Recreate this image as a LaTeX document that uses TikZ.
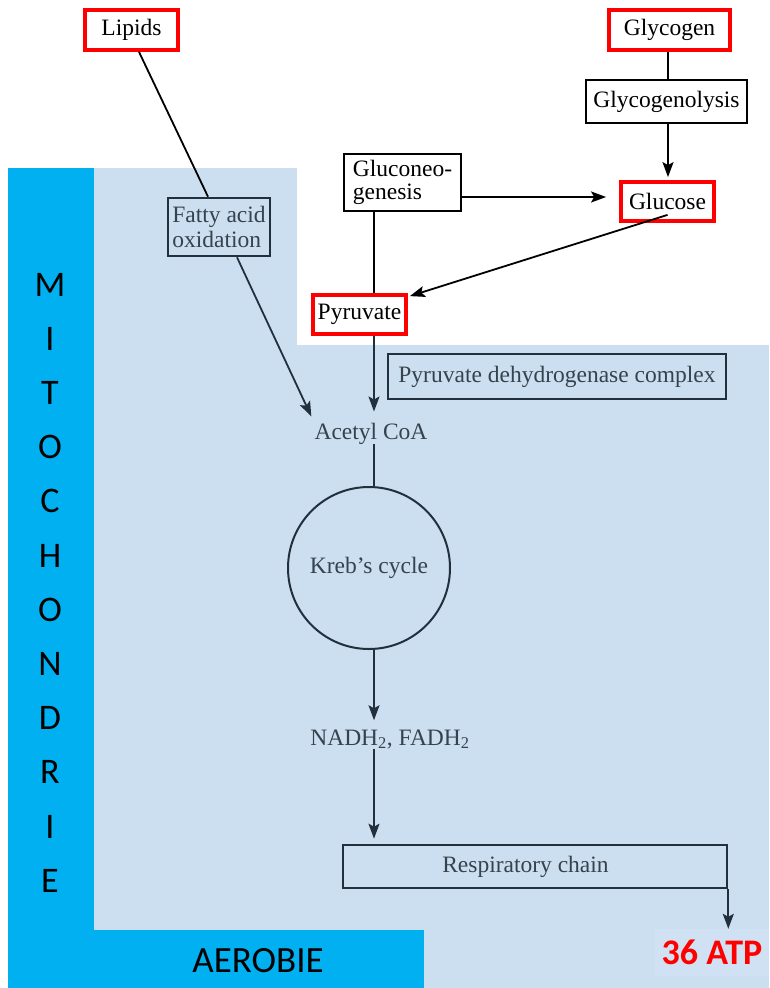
\documentclass[tikz,border=0pt]{standalone}
\usepackage{fontspec}
\setmainfont{Liberation Serif}
\newfontfamily\calib{Carlito}
\usetikzlibrary{arrows.meta,calc}
\definecolor{mitoblue}{HTML}{00B0F0}
\definecolor{lightbg}{HTML}{CCDFF0}
\definecolor{atpbg}{HTML}{CFE1F2}
\definecolor{ink}{HTML}{22303E}
\definecolor{inktext}{HTML}{36424E}
\begin{document}
\begin{tikzpicture}[x=1pt,y=-1pt,
  every node/.style={font=\fontsize{23.5}{25}\selectfont, inner sep=0pt},
  redframe/.style={draw=red, line width=3.8pt, fill=white},
  blackframe/.style={draw=black, line width=2.2pt, fill=white},
  darkframe/.style={draw=ink, line width=2.6pt, text=inktext, fill=lightbg},
  plaintext/.style={text=inktext},
  conn/.style={line width=1.8pt, draw=black},
  darkconn/.style={line width=1.8pt, draw=ink},
  witharrow/.style={-{Stealth[length=15pt,width=11pt,inset=3pt]}}
]
% backgrounds
\fill[white] (0,0) rectangle (769,988);
\fill[lightbg] (94,168) rectangle (297,345);
\fill[lightbg] (94,345) rectangle (769,988);
\fill[mitoblue] (8,168) rectangle (94,988);
\fill[mitoblue] (8,930) rectangle (424,988);
\useasboundingbox (0,0) rectangle (769,988);

% labels of the compartment
\node[font=\calib\fontsize{36}{54.2}\selectfont, align=center] (mito) at (50,582.6)
  {M\\I\\T\\O\\C\\H\\O\\N\\D\\R\\I\\E};
\node[font=\calib\fontsize{37}{37}\selectfont, anchor=base] (aer) at (258,972) {AEROBIE};

% nodes
\node[redframe, minimum width=93, minimum height=40] (lipids) at (131.5,30) {Lipids};
\node[redframe, minimum width=121, minimum height=40] (glycogen) at (669.5,30) {Glycogen};
\node[blackframe, minimum width=161, minimum height=43] (glycolysis) at (666.5,101.5) {Glycogenolysis};
\node[redframe, minimum width=93, minimum height=39] (glucose) at (667.5,201.5) {Glucose};
\node[blackframe, minimum width=117, minimum height=57, align=left,
      font=\fontsize{23.5}{23}\selectfont] (gluco) at (402.5,182.5) {Gluconeo-\\genesis};
\node[darkframe, minimum width=102, minimum height=58, align=left] (fatty) at (219,227)
  {Fatty acid\\oxidation};
\node[redframe, minimum width=93, minimum height=39] (pyruvate) at (359.5,314.5) {Pyruvate};
\node[darkframe, minimum width=338, minimum height=45] (pdc) at (557,376.5)
  {Pyruvate dehydrogenase complex};
\node[plaintext, anchor=base] (acetyl) at (371,439) {Acetyl CoA};
\node[draw=ink, line width=2pt, circle, minimum size=162, text=inktext] (kreb) at (369,568)
  {Kreb’s cycle};
\node[plaintext, anchor=base] (nadh) at (390,745) {NADH\textsubscript{2}, FADH\textsubscript{2}};
\node[darkframe, minimum width=384, minimum height=43] (resp) at (535,866.5)
  {\hspace*{-19pt}Respiratory chain};
\node[font=\calib\bfseries\fontsize{36}{36}\selectfont, text=red, fill=atpbg,
      minimum width=114, minimum height=47] (atp) at (712,952.5) {36 ATP};

% helper verticals
\coordinate (vx) at (374,0);
\coordinate (gx) at (668,0);

% connectors
\draw[conn] (glycogen.south -| gx) -- (glycolysis.north -| gx);
\draw[conn, witharrow] (glycolysis.south -| gx) -- ([yshift=3]glucose.north -| gx);
\draw[conn, witharrow, shorten >=13pt] ([yshift=-14.5]gluco.east) -- ([yshift=-14.5]gluco.east -| glucose.west);
\draw[conn, witharrow] ([yshift=8]glucose.south) -- ([xshift=2,yshift=-3]pyruvate.north east);
\draw[conn] (gluco.south -| vx) -- (pyruvate.north -| vx);
\draw[darkconn, witharrow] (pyruvate.south -| vx) -- ([yshift=11]acetyl.north -| vx);
\draw[conn] ([xshift=7.5]lipids.south) -- ([xshift=-11]fatty.north);
\draw[darkconn, witharrow] ([xshift=18]fatty.south) -- ([xshift=-3,yshift=6]acetyl.north west);
\draw[darkconn] (acetyl.south -| vx) -- (kreb.north -| vx);
\draw[darkconn, witharrow] (kreb.south -| vx) -- ([yshift=9]nadh.north -| vx);
\draw[darkconn, witharrow] (nadh.south -| vx) -- ([yshift=5]resp.north -| vx);
\draw[darkconn, witharrow] (resp.south east) -- (atp.north -| resp.south east);
\end{tikzpicture}
\end{document}
